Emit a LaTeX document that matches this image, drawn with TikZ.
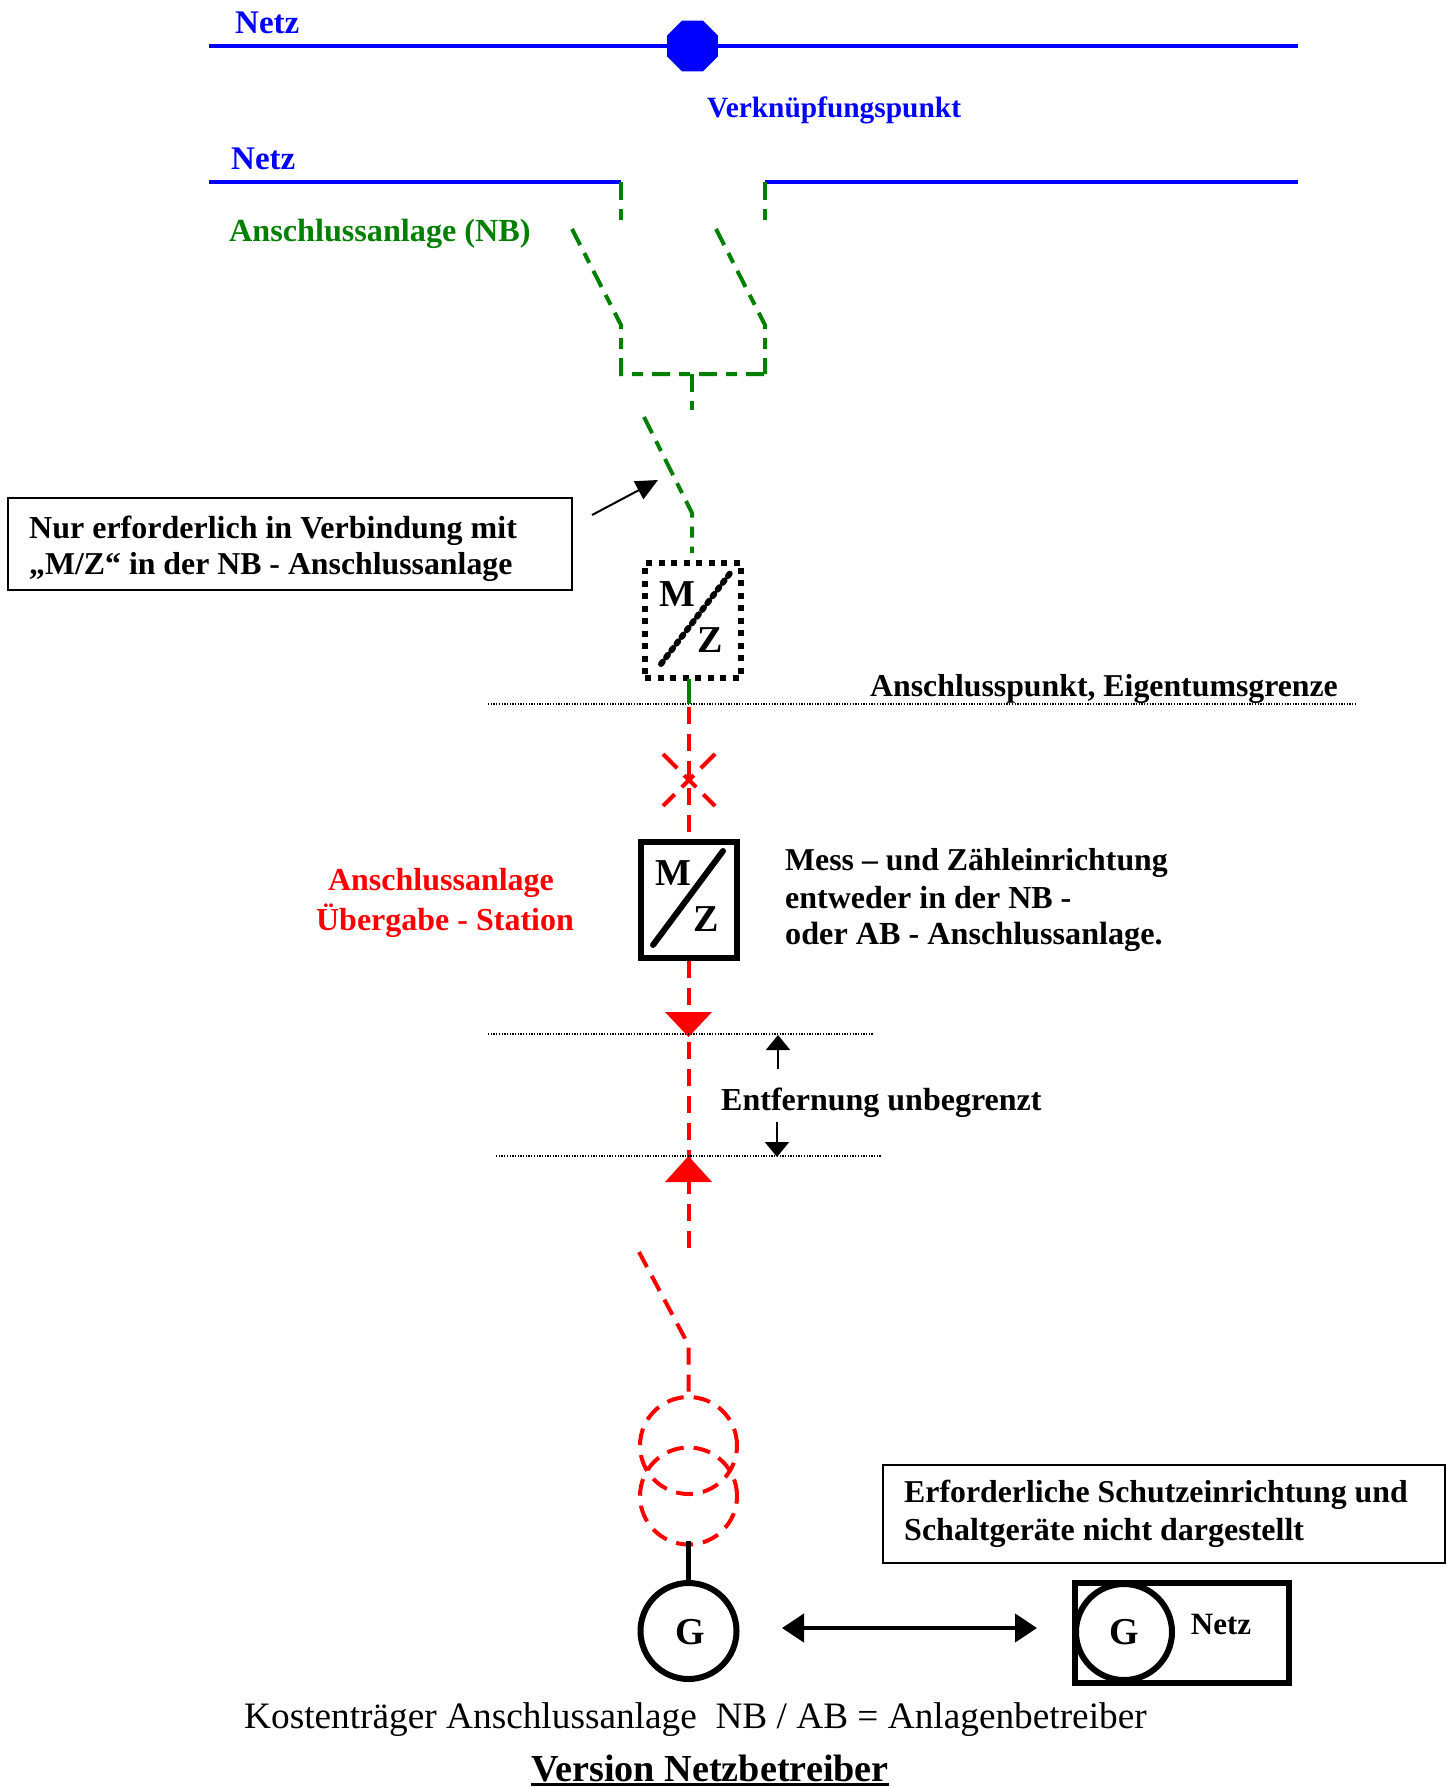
\documentclass[tikz,border=0pt]{standalone}
\usepackage{fontspec}
\setmainfont{Liberation Serif}
\usetikzlibrary{arrows.meta,shapes.geometric}
\definecolor{gruen}{RGB}{0,128,0}
\newcommand{\bt}[1]{\fontsize{#1}{#1}\selectfont\bfseries}
\tikzset{
 blueline/.style={draw=blue,line width=4pt},
 greenline/.style={draw=gruen,line width=4pt,dash pattern=on 18pt off 9pt on 11pt off 9pt},
 redline/.style={draw=red,line width=4pt,dash pattern=on 17pt off 10pt},
 gridline/.style={draw=black,line width=1.1pt,dash pattern=on 1.3pt off 1.4pt},
 lbl/.style={inner sep=0pt,anchor=mid west,font=\bt{32}},
 clbl/.style={inner sep=0pt,anchor=mid,font=\bt{32}},
 symlbl/.style={inner sep=0pt,anchor=center,font=\bt{38}},
 framebox/.style={draw=black,line width=1.6pt,inner sep=0pt},
 mzsolid/.style={draw=black,line width=6pt,inner sep=0pt,minimum width=96pt,minimum height=116pt},
 mzdot/.style={draw=black,line width=6pt,dash pattern=on 6pt off 6.5pt,inner sep=0pt,minimum width=96pt,minimum height=115pt},
 gen/.style={circle,draw=black,line width=6pt,inner sep=0pt,minimum size=96pt},
 trafo/.style={circle,redline,inner sep=0pt,minimum size=97pt},
 thin arrow/.style={draw=black,line width=2pt,-{Triangle[length=15pt,width=24pt]}},
 bold arrow/.style={draw=black,line width=4.5pt,{Triangle[length=22pt,width=28pt]}-{Triangle[length=22pt,width=28pt]}},
}
\begin{document}
\begin{tikzpicture}[x=1pt,y=-1pt]
\useasboundingbox (0,0) rectangle (1452,1787);
% Netz oben
\coordinate (n1l) at (209,46); \coordinate (n1r) at (1298,46);
\draw[blueline] (n1l) -- (n1r);
\node[regular polygon,regular polygon sides=8,fill=blue,inner sep=0pt,minimum size=55pt] (vp) at (692.5,46) {};
\node[lbl,text=blue,font=\bt{33}] (netz1) at (235,31) {Netz};
\node[lbl,text=blue,font=\bt{29.4}] (vkp) at (707,115) {Verknüpfungspunkt};
% Netz zweite Zeile
\coordinate (n2l) at (209,182); \coordinate (n2a) at (621,182);
\coordinate (n2b) at (765,182); \coordinate (n2r) at (1298,182);
\draw[blueline] (n2l) -- (n2a);
\draw[blueline] (n2b) -- (n2r);
\node[lbl,text=blue,font=\bt{33}] (netz2) at (231,167) {Netz};
\node[lbl,text=gruen,font=\bt{32.2}] (anb) at (229,239) {Anschlussanlage (NB)};
% Gruene Leitungen
\coordinate (a1) at (621,220); \coordinate (b1) at (765,220);
\coordinate (a2) at (572,229); \coordinate (a3) at (621,325); \coordinate (a4) at (621,374);
\coordinate (b2) at (716,229); \coordinate (b3) at (765,325); \coordinate (b4) at (765,374);
\coordinate (m1) at (692,374); \coordinate (m2) at (692,410);
\coordinate (m3) at (644,417); \coordinate (m4) at (692,513); \coordinate (m5) at (692,553);
\draw[greenline,dash pattern=on 18pt off 9pt on 11pt] (n2a) -- (a1);
\draw[greenline,dash pattern=on 18pt off 9pt on 11pt] (n2b) -- (b1);
\draw[greenline] (a2) -- (a3) -- (a4) -- (b4);
\draw[greenline] (b2) -- (b3) -- (b4);
\draw[greenline,dash pattern=on 18pt off 9pt on 11pt] (m1) -- (m2);
\draw[greenline] (m3) -- (m4) -- (m5);
% MZ gestrichelt
\node[mzdot] (mz1) at (693,620) {};
\coordinate (d1) at (661,664); \coordinate (d2) at (731,572);
\draw[black,line width=6pt,dash pattern=on 3pt off 5.5pt,line cap=round] (d1) -- (d2);
\node[symlbl] (m1t) at (677,594) {M};
\node[symlbl] (z1t) at (710,640) {Z};
% Anschlusspunkt
\coordinate (g1l) at (488,704); \coordinate (g1r) at (1357,704);
\draw[gridline] (g1l) -- (g1r);
\node[lbl,font=\bt{31.8}] (apt) at (870,694) {Anschlusspunkt, Eigentumsgrenze};
\coordinate (c1) at (688.5,679); \coordinate (c2) at (688.5,704);
\draw[draw=gruen,line width=4pt] (c1) -- (c2);
% Box
\node[mzsolid] (mz2) at (688.5,900) {};
\coordinate (r0) at (688.5,707);
\draw[redline] (r0) -- (mz2.north);
% Kreuz
\coordinate (x1) at (663,754); \coordinate (x2) at (715,806);
\coordinate (x3) at (715,754); \coordinate (x4) at (663,806);
\draw[redline,dash pattern=on 20pt off 10pt on 17pt off 10pt] (x1) -- (x2);
\draw[redline,dash pattern=on 20pt off 10pt on 17pt off 10pt] (x3) -- (x4);
\coordinate (d3) at (653,945); \coordinate (d4) at (723,851);
\draw[black,line width=6pt,line cap=round] (d3) -- (d4);
\node[symlbl] (m2t) at (673,873) {M};
\node[symlbl] (z2t) at (706,919) {Z};
\node[clbl,text=red] (al1) at (441,888) {Anschlussanlage};
\node[clbl,text=red] (al2) at (445,928) {Übergabe - Station};
\node[lbl,font=\bt{31.8}] (me1) at (785,868) {Mess – und Zähleinrichtung};
\node[lbl] (me2) at (785,906) {entweder in der NB -};
\node[lbl,font=\bt{32.2}] (me3) at (785,942) {oder AB - Anschlussanlage.};
% Rote Leitung
\coordinate (r1) at (688.5,1252);
\draw[redline] (mz2.south) -- (r1);
\coordinate (t1l) at (665,1012); \coordinate (t1r) at (712,1012); \coordinate (t1s) at (688.5,1037);
\fill[red] (t1l) -- (t1r) -- (t1s) -- cycle;
\coordinate (t2l) at (665,1182); \coordinate (t2r) at (712,1182); \coordinate (t2s) at (688.5,1156);
\fill[red] (t2l) -- (t2r) -- (t2s) -- cycle;
\coordinate (g2l) at (488,1034); \coordinate (g2r) at (874,1034);
\coordinate (g3l) at (496,1156); \coordinate (g3r) at (882,1156);
\draw[gridline] (g2l) -- (g2r);
\draw[gridline] (g3l) -- (g3r);
\coordinate (p1a) at (778,1069); \coordinate (p1b) at (778,1035);
\coordinate (p2a) at (777,1122); \coordinate (p2b) at (777,1157);
\draw[thin arrow] (p1a) -- (p1b);
\draw[thin arrow] (p2a) -- (p2b);
\node[lbl] (ent) at (721,1108) {Entfernung unbegrenzt};
% Schalter + Trafo
\node[trafo] (tr1) at (688.5,1445.5) {};
\node[trafo] (tr2) at (688.5,1496) {};
\coordinate (s1) at (639,1252); \coordinate (s2) at (688.5,1345);
\draw[redline] (s1) -- (s2) -- (tr1.north);
% Generator
\node[gen] (gen1) at (688.5,1631) {};
\node[symlbl] (gt1) at (690,1632) {G};
\draw[black,line width=5.5pt] (tr2.south) ++(0,-6) -- (gen1.north);
% Netz-G Box
\node[draw=black,line width=6pt,inner sep=0pt,minimum width=214pt,minimum height=100pt] (nb) at (1182,1632.5) {};
\node[gen] (gen2) at (1124,1632) {};
\node[symlbl] (gt2) at (1124,1632) {G};
\node[clbl,font=\bt{31}] (nz) at (1221,1632) {Netz};
\coordinate (q1) at (782,1628); \coordinate (q2) at (1037,1628);
\draw[bold arrow] (q1) -- (q2);
% Textkaesten
\node[framebox,minimum width=564pt,minimum height=92pt] (box1) at (290,544) {};
\node[lbl] (b1t1) at (29,536) {Nur erforderlich in Verbindung mit};
\node[lbl,font=\bt{31.8}] (b1t2) at (29,572) {„M/Z“ in der NB - Anschlussanlage};
\coordinate (pf1) at (592,515); \coordinate (pf2) at (658,480);
\draw[thin arrow,line width=2pt,-{Triangle[length=22pt,width=20pt]}] (pf1) -- (pf2);
\node[framebox,minimum width=562pt,minimum height=98pt] (box2) at (1164,1514) {};
\node[lbl,font=\bt{31.8}] (b2t1) at (904,1500) {Erforderliche Schutzeinrichtung und};
\node[lbl] (b2t2) at (904,1538) {Schaltgeräte nicht dargestellt};
% Fuss
\node[inner sep=0pt,anchor=mid west,font=\fontsize{37.3}{37.3}\selectfont] (kt) at (244,1726) {Kostenträger Anschlussanlage\ \ NB / AB = Anlagenbetreiber};
\node[inner sep=0pt,anchor=base,font=\bt{38.2}] (vn) at (710,1781) {Version Netzbetreiber};
\draw[black,line width=3pt] (vn.base west) ++(0,3.5) -- ([yshift=-3.5pt]vn.base east);
\end{tikzpicture}
\end{document}
